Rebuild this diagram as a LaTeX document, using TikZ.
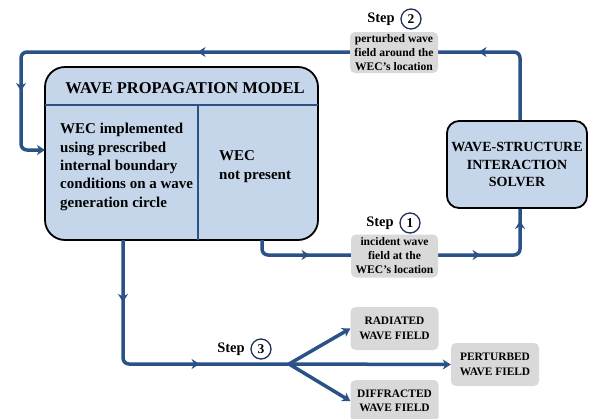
\documentclass[tikz,border=0pt]{standalone}
\usepackage{fontspec}
\setmainfont{Liberation Serif}
\usetikzlibrary{arrows.meta,decorations.markings}
\definecolor{flowblue}{HTML}{2B5287}
\definecolor{boxblue}{HTML}{C5D6EA}
\definecolor{labelgray}{HTML}{D9D9D9}
\definecolor{navy}{HTML}{1F3050}
\begin{document}
\begin{tikzpicture}[x=1pt,y=-1pt,
  flow/.style={draw=flowblue, line width=3.5pt, rounded corners=6pt},
  bigbox/.style={draw=black, line width=1.8pt, fill=boxblue, inner sep=0pt},
  graylabel/.style={fill=labelgray, rounded corners=5pt, inner sep=0pt, align=center,
     font=\fontsize{11.6}{14}\selectfont\bfseries},
  outbox/.style={fill=labelgray, rounded corners=5pt, inner sep=0pt, align=center,
     minimum width=88pt, minimum height=43pt, font=\fontsize{11.4}{14.5}\selectfont\bfseries},
  steptext/.style={font=\fontsize{14.5}{16}\selectfont\bfseries, inner sep=0pt},
  stepnum/.style={circle, draw=navy, line width=1.3pt, minimum size=20pt, inner sep=0pt,
     font=\fontsize{13.5}{14}\selectfont\bfseries},
  divider/.style={draw=flowblue, line width=2.6pt},
  mk/.style={postaction={decorate}, decoration={markings,#1}}
]
\useasboundingbox[fill=white] (0,0) rectangle (591,418);

% main model box
\node[bigbox, rounded corners=20pt, minimum width=273pt, minimum height=173pt] (main) at (181.5,153.5) {};
\coordinate (hl) at (45,105);
\coordinate (hr) at (318,105);
\coordinate (dt) at (198,105);
\coordinate (db) at (198,240);
\draw[divider] (hl) -- (hr);
\draw[divider] (dt) -- (db);
\node[font=\fontsize{16.5}{18}\selectfont\bfseries, inner sep=0pt] (title) at (185,88) {WAVE PROPAGATION MODEL};
\node[anchor=west, align=left, inner sep=0pt, font=\fontsize{15}{18.3}\selectfont\bfseries] (lefttext) at (60,167)
  {WEC implemented\\using prescribed\\internal boundary\\conditions on a wave\\generation circle};
\node[anchor=west, align=left, inner sep=0pt, font=\fontsize{15}{18.5}\selectfont\bfseries] (righttext) at (219,166.5)
  {WEC\\not present};

% solver box
\node[bigbox, rounded corners=12pt, minimum width=140pt, minimum height=87pt, align=center,
  font=\fontsize{14}{17.5}\selectfont\bfseries] (solver) at (517,164.5)
  {WAVE-STRUCTURE\\INTERACTION\\SOLVER};

% step 2 loop
\coordinate (t1) at (520,52);
\coordinate (t2) at (21,52);
\coordinate (t3) at (21,150);
\coordinate (t4) at (45,150);
\draw[flow, -{Stealth[length=8pt,width=10pt,inset=2.5pt]},
  mk={mark=at position 107pt with {\arrow{Stealth[length=8pt,width=10pt,inset=2.5pt]}},
      mark=at position 388pt with {\arrow{Stealth[length=8pt,width=10pt,inset=2.5pt]}},
      mark=at position 601pt with {\arrow{Stealth[length=8pt,width=10pt,inset=2.5pt]}}}]
  (solver.north -| t1) -- (t1) -- (t2) -- (t3) -- (t4);
\node[graylabel, minimum width=88pt, minimum height=41pt] (lab2) at (394,52.5)
  {perturbed wave\\field around the\\WEC’s location};
\node[steptext] (step2) at (381,19.5) {Step};
\node[stepnum] (n2) at (411,19) {2};

% step 1 path
\coordinate (m1) at (262,240);
\coordinate (c1) at (262,255);
\coordinate (c2) at (520,255);
\draw[flow,
  mk={mark=at position 60pt with {\arrow{Stealth[length=8pt,width=10pt,inset=2.5pt]}},
      mark=at position 231pt with {\arrow{Stealth[length=8pt,width=10pt,inset=2.5pt]}},
      mark=at position 302pt with {\arrow{Stealth[length=8pt,width=10pt,inset=2.5pt]}}}]
  (m1) -- (c1) -- (c2) -- (solver.south -| c2);
\node[graylabel, minimum width=87pt, minimum height=43pt] (lab1) at (394.5,256)
  {incident wave\\field at the\\WEC’s location};
\node[steptext] (step1) at (380,223.5) {Step};
\node[stepnum] (n1) at (410,223) {1};

% step 3 path
\coordinate (m3) at (123,240);
\coordinate (c3) at (123,364);
\coordinate (split) at (289,364);
\draw[flow,
  mk={mark=at position 62pt with {\arrow{Stealth[length=8pt,width=10pt,inset=2.5pt]}},
      mark=at position 198pt with {\arrow{Stealth[length=8pt,width=10pt,inset=2.5pt]}}}]
  (m3) -- (c3) -- (split);
\node[steptext] (step3) at (231,349.5) {Step};
\node[stepnum] (n3) at (261,349) {3};

\node[outbox] (rad) at (394.5,328.5) {RADIATED\\WAVE FIELD};
\node[outbox, minimum width=88pt, minimum height=43pt] (pert) at (495,364.5) {PERTURBED\\WAVE FIELD};
\node[outbox, minimum height=42pt] (dif) at (394.5,401) {DIFFRACTED\\WAVE FIELD};

\draw[flow, -{Stealth[length=8pt,width=10pt,inset=2.5pt]}] (split) -- (rad.west);
\draw[flow, -{Stealth[length=8pt,width=10pt,inset=2.5pt]}] (split) -- (pert.west);
\draw[flow, -{Stealth[length=8pt,width=10pt,inset=2.5pt]}] (split) -- (dif.west);
\end{tikzpicture}
\end{document}
